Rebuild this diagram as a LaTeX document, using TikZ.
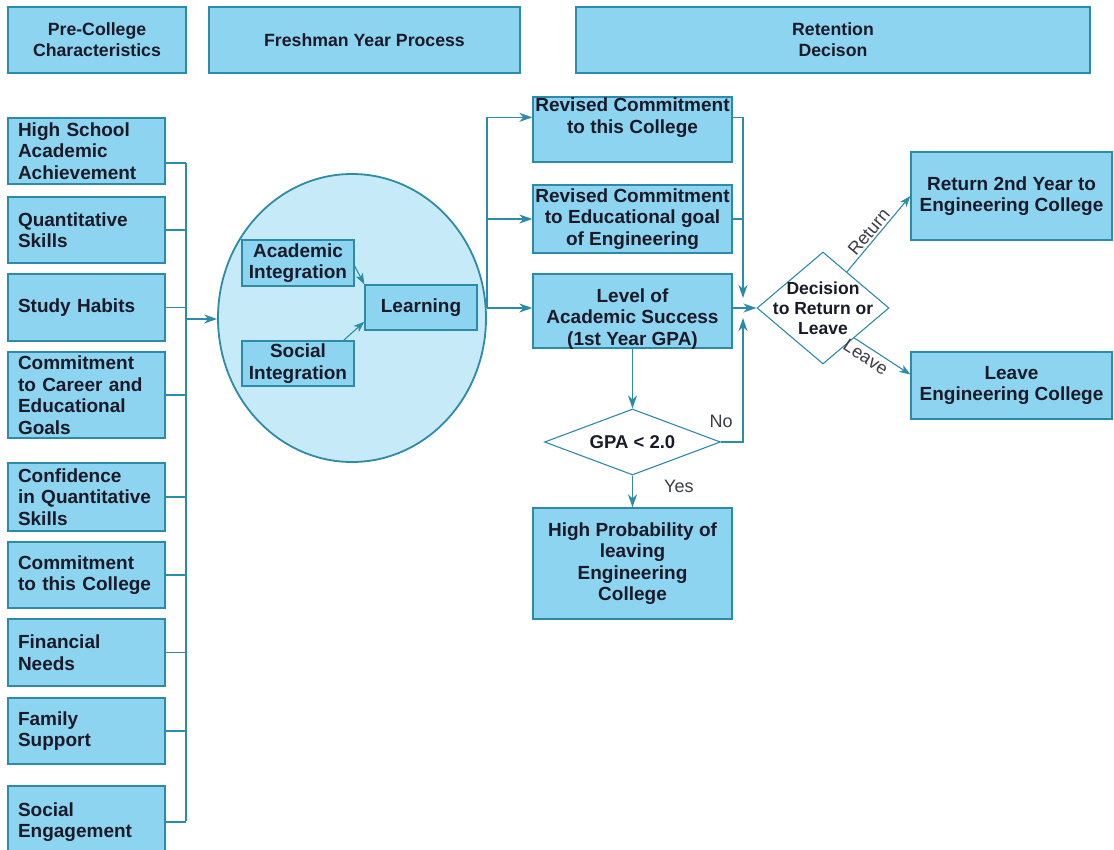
\documentclass[tikz,border=0pt]{standalone}
\usepackage{fontspec}
\setmainfont{Liberation Sans}
\usetikzlibrary{arrows.meta,shapes.geometric,calc}
\definecolor{boxfill}{HTML}{8DD4F0}
\definecolor{edgec}{HTML}{2C8BA8}
\definecolor{ellfill}{HTML}{C6EAF8}
\definecolor{ink}{HTML}{1A1A28}
\begin{document}
\begin{tikzpicture}[x=1pt,y=-1pt,
  box/.style={draw=edgec, line width=1.3pt, fill=boxfill, inner sep=0pt, text=ink, align=center,
    font=\bfseries\fontsize{19}{21.5}\selectfont},
  hbox/.style={box, minimum height=66pt, font=\bfseries\fontsize{17.7}{21}\selectfont},
  lbox/.style={box, align=left, text width=137pt, minimum width=157pt},
  rbox/.style={box, minimum width=199pt},
  txt/.style={inner sep=0pt, text=ink, align=center, font=\bfseries\fontsize{19}{21.5}\selectfont},
  dia/.style={diamond, draw=edgec, line width=1.1pt, fill=white, inner sep=0pt},
  conn/.style={draw=edgec, line width=1.4pt},
  arr/.style={conn, -{Stealth[length=13pt,width=9pt,inset=4pt]}},
  sarr/.style={conn, line width=1.1pt, -{Stealth[length=11pt,width=8pt,inset=3pt]}},
  lab/.style={inner sep=1pt, text=ink!85, font=\fontsize{18}{20}\selectfont}]
\useasboundingbox (0,0) rectangle (1114,850);

% headers
\node[hbox, minimum width=178pt] (h1) at (97,40) {Pre-College\\Characteristics};
\node[hbox, minimum width=311pt] (h2) at (364.5,40) {Freshman Year Process};
\node[hbox, minimum width=514pt] (h3) at (833,40) {Retention\\Decison};

% pre-college boxes
\node[lbox, minimum height=66pt] (p1) at (86.5,151) {High School\\Academic\\Achievement};
\node[lbox, minimum height=66pt] (p2) at (86.5,230) {Quantitative\\Skills};
\node[lbox, minimum height=67pt] (p3) at (86.5,307.5) {Study Habits};
\node[lbox, minimum height=86pt] (p4) at (86.5,395) {Commitment\\to Career and\\Educational\\Goals};
\node[lbox, minimum height=68pt] (p5) at (86.5,497) {Confidence\\in Quantitative\\Skills};
\node[lbox, minimum height=66pt] (p6) at (86.5,575) {Commitment\\to this College};
\node[lbox, minimum height=67pt] (p7) at (86.5,652.5) {Financial\\Needs};
\node[lbox, minimum height=66pt] (p8) at (86.5,731) {Family\\Support};
\node[lbox, minimum height=72pt] (p9) at (86.5,822) {Social\\Engagement};

% bus
\coordinate (bustop) at (186,163);
\coordinate (busbot) at (186,821);
\coordinate (busmid) at (186,319);
\draw[conn] (bustop) -- (busbot);
\draw[conn] ($(p1.east)+(0,12)$) -- (bustop);
\foreach \n in {p2,p3,p4,p5,p6,p7,p8,p9} \draw[conn] (\n.east) -- (\n.east -| bustop);

% freshman year ellipse
\node[ellipse, draw=edgec, fill=ellfill, line width=1.8pt, minimum width=268pt, minimum height=288pt, inner sep=0pt] (ell) at (352,318) {};
\draw[arr] (busmid) -- (ell.west |- busmid);

\node[box, minimum width=112pt, minimum height=46pt] (ai) at (298,263) {Academic\\Integration};
\node[box, minimum width=112pt, minimum height=45pt] (learn) at (421,307.5) {Learning};
\node[box, minimum width=112pt, minimum height=45pt] (si) at (298,363.5) {Social\\Integration};
\draw[sarr] ($(ai.east)+(0,3)$) -- (learn.north west);
\draw[sarr] ($(si.north east)+(-11,0)$) -- ($(learn.south west)+(0,-9)$);

% right column boxes
\node[rbox, minimum height=65pt] (rc1) at (632.5,129.5) {};
\node[txt] at ($(rc1.north)+(0,21.5)$) {Revised Commitment\\to this College};
\node[rbox, minimum height=68pt] (rc2) at (632.5,219) {Revised Commitment\\to Educational goal\\of Engineering};
\node[rbox, minimum height=74pt] (lev) at (632.5,311) {};
\node[txt] at ($(lev.center)+(0,8)$) {Level of\\Academic Success\\(1st Year GPA)};
\node[rbox, minimum height=111pt] (hp) at (632.5,563.5) {High Probability of\\leaving\\Engineering\\College};

% fork from ellipse
\coordinate (fork) at (487,308);
\draw[conn] (ell.east |- fork) -- (fork);
\draw[arr] (fork) |- ($(rc1.north west)+(0,21)$);
\draw[arr] (fork) |- (rc2.west);
\draw[arr] (fork) -- (fork -| lev.west);

% decision diamonds
\node[dia, minimum width=132pt, minimum height=112pt] (dec) at (823,308) {};
\node[txt, font=\bfseries\fontsize{17.5}{20}\selectfont] at (dec) {Decision\\to Return or\\Leave};
\node[dia, minimum width=176pt, minimum height=66pt] (gpa) at (632.5,442) {};
\node[txt, font=\bfseries\fontsize{18.5}{20}\selectfont] at (gpa) {GPA < 2.0};

% merge into decision
\coordinate (mdown) at (743,298);
\coordinate (mup) at (743,318);
\draw[arr] ($(rc1.north east)+(0,21)$) -| (mdown);
\draw[conn] (rc2.east) -- (rc2.east -| mdown);
\draw[arr] (dec.west -| lev.east) -- (dec.west);
\draw[arr] (lev.south) -- (gpa.north);
\draw[arr] (gpa.east) node[lab, anchor=south, yshift=13pt] {No} -| (mup);
\draw[arr] (gpa.south) -- node[lab, pos=0.35, right=30pt] {Yes} (hp.north);

% outcomes
\node[box, minimum width=201pt, minimum height=88pt] (ret) at (1011.5,196) {Return 2nd Year to\\Engineering College};
\node[box, minimum width=201pt, minimum height=67pt] (lv) at (1011.5,385.5) {Leave\\Engineering College};
\draw[sarr] ($(dec.north)!0.36!(dec.east)$) -- node[lab, sloped, above=1pt, pos=0.45] {Return} (ret.west);
\draw[sarr] ($(dec.east)!0.53!(dec.south)$) -- node[lab, sloped, below=2pt, pos=0.3] {Leave} ($(lv.west)+(0,-11)$);
\end{tikzpicture}
\end{document}
